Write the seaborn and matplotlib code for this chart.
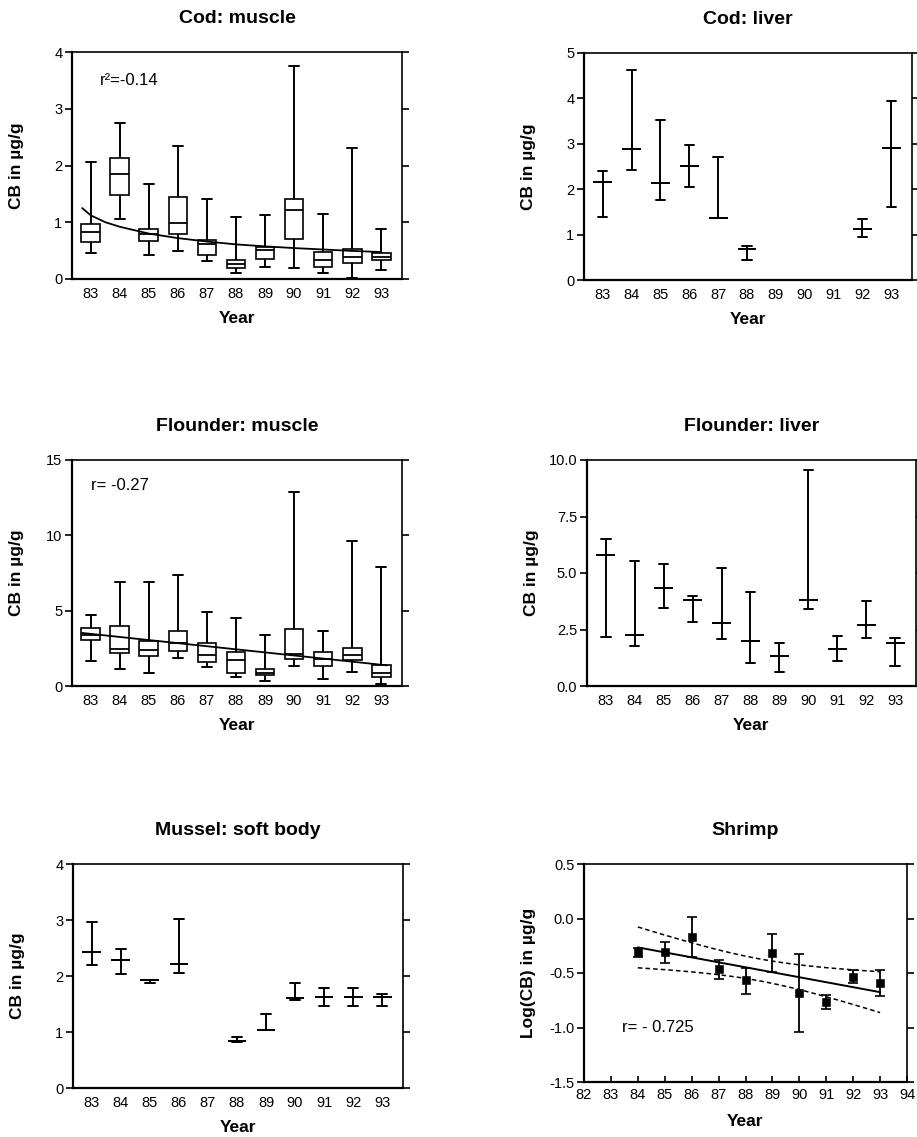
import numpy as np
import pandas as pd
import matplotlib
matplotlib.use("Agg")
import matplotlib.pyplot as plt
import seaborn as sns

# ---------------- data ----------------
years = [83, 84, 85, 86, 87, 88, 89, 90, 91, 92, 93]

# Cod: muscle (box plots: min, q1, median, q3, max)
cod_m_lo  = [0.45, 1.05, 0.43, 0.49, 0.32, 0.11, 0.22, 0.20, 0.10, 0.02, 0.16]
cod_m_q1  = [0.65, 1.48, 0.67, 0.79, 0.42, 0.19, 0.36, 0.71, 0.22, 0.28, 0.34]
cod_m_med = [0.82, 1.85, 0.79, 0.99, 0.61, 0.26, 0.51, 1.22, 0.34, 0.39, 0.39]
cod_m_q3  = [0.97, 2.13, 0.88, 1.45, 0.69, 0.33, 0.57, 1.41, 0.48, 0.52, 0.46]
cod_m_hi  = [2.06, 2.75, 1.68, 2.34, 1.41, 1.09, 1.13, 3.76, 1.15, 2.30, 0.88]
cod_m_curve_x = [82.7, 83.0, 83.5, 84, 85, 86, 87, 88, 89, 90, 91, 92, 93]
cod_m_curve_y = [1.25, 1.12, 1.00, 0.92, 0.80, 0.72, 0.66, 0.61, 0.575, 0.545, 0.52, 0.495, 0.475]
cod_m_text = "r\u00b2=-0.14"

# Cod: liver (range: low, mean, high)
cod_l_years = [83, 84, 85, 86, 87, 88, 92, 93]
cod_l_lo  = [1.38, 2.42, 1.77, 2.04, 1.36, 0.43, 0.95, 1.61]
cod_l_mid = [2.16, 2.89, 2.14, 2.51, 1.37, 0.68, 1.12, 2.91]
cod_l_hi  = [2.40, 4.63, 3.53, 2.98, 2.71, 0.755, 1.35, 3.94]

# Flounder: muscle (box plots)
fl_m_lo  = [1.66, 1.11, 0.86, 1.86, 1.24, 0.60, 0.31, 1.35, 0.47, 0.93, 0.16]
fl_m_q1  = [3.04, 2.22, 1.97, 2.33, 1.60, 0.86, 0.71, 1.79, 1.31, 1.71, 0.60]
fl_m_med = [3.37, 2.48, 2.42, 2.86, 2.08, 1.73, 0.86, 2.13, 1.79, 2.04, 0.86]
fl_m_q3  = [3.86, 3.97, 2.97, 3.68, 2.86, 2.26, 1.11, 3.77, 2.24, 2.53, 1.42]
fl_m_hi  = [4.70, 6.91, 6.91, 7.36, 4.90, 4.54, 3.37, 12.9, 3.63, 9.64, 7.91]
fl_m_line_x = [82.7, 93.2]
fl_m_line_y = [3.52, 1.37]
fl_m_text = "r= -0.27"

# Flounder: liver (range)
fl_l_lo  = [2.17, 1.76, 3.47, 2.85, 2.09, 1.00, 0.60, 3.42, 1.09, 2.14, 0.90]
fl_l_mid = [5.80, 2.26, 4.32, 3.82, 2.77, 1.99, 1.33, 3.82, 1.65, 2.70, 1.92]
fl_l_hi  = [6.49, 5.52, 5.41, 4.00, 5.22, 4.17, 1.89, 9.56, 2.21, 3.75, 2.14]

# Mussel: soft body (range)
mus_years = [83, 84, 85, 86, 88, 89, 90, 91, 92, 93]
mus_lo  = [2.19, 2.04, 1.875, 2.05, 0.83, 1.03, 1.58, 1.46, 1.46, 1.46]
mus_mid = [2.43, 2.28, 1.92, 2.22, 0.845, 1.04, 1.61, 1.62, 1.62, 1.62]
mus_hi  = [2.96, 2.49, 1.93, 3.02, 0.905, 1.32, 1.87, 1.79, 1.79, 1.68]

# Shrimp: log(CB) means with error bars
shr_years = [84, 85, 86, 87, 88, 89, 90, 91, 92, 93]
shr_mean = [-0.309, -0.309, -0.166, -0.465, -0.563, -0.321, -0.679, -0.764, -0.535, -0.593]
shr_lo   = [-0.349, -0.410, -0.349, -0.557, -0.690, -0.492, -1.042, -0.831, -0.590, -0.709]
shr_hi   = [-0.273, -0.218, 0.018, -0.385, -0.450, -0.141, -0.324, -0.703, -0.474, -0.474]
shr_text = "r= - 0.725"
t_975_8 = 2.306  # Student t quantile for the 95 % band (n-2 = 8 df)

# ---------------- style ----------------
sns.set_theme(style="ticks", rc={
    "text.color": "black", "axes.labelcolor": "black", "axes.edgecolor": "black",
    "xtick.color": "black", "ytick.color": "black",
})
plt.rcParams["font.family"] = ["Liberation Sans", "DejaVu Sans"]
plt.rcParams["axes.unicode_minus"] = False

W, H = 917, 1137
fig = plt.figure(figsize=(W / 100, H / 100), dpi=100)


def make_ax(l, r, t, b):
    return fig.add_axes([l / W, 1 - b / H, (r - l) / W, (b - t) / H])


def box_frame(yrs, *cols):
    return pd.DataFrame({
        "Year": np.repeat(np.asarray(yrs, dtype=float), len(cols)),
        "val": np.column_stack(cols).ravel(),
    })


def draw_boxes(ax, frame, lw=1.2):
    sns.boxplot(data=frame, x="Year", y="val", native_scale=True, whis=(0, 100),
                width=0.65, color="white", linecolor="black", linewidth=lw,
                whiskerprops={"linewidth": 1.4}, capprops={"linewidth": 1.4},
                medianprops={"linewidth": 1.3}, ax=ax)


def style_ax(ax, title, ylim, yticks, fmt=None, cat=True, ylabel="CB in \u00b5g/g"):
    ax.set_title(title, fontsize=14, fontweight="bold", pad=21, color="black")
    ax.set_ylim(*ylim)
    ax.set_yticks(yticks)
    if fmt:
        ax.set_yticklabels([fmt.format(v) for v in yticks])
    if cat:
        ax.set_xlim(82.35, 93.72)
        ax.set_xticks(years)
        ax.set_xticklabels([str(y) for y in years])
        ax.tick_params(axis="x", length=0, pad=6, labelsize=10.5)
    ax.tick_params(axis="y", left=True, right=True, direction="out", length=5,
                   width=1.2, labelsize=10.5, pad=2)
    for side in ["left", "bottom"]:
        ax.spines[side].set_linewidth(1.6)
    for side in ["top", "right"]:
        ax.spines[side].set_visible(True)
        ax.spines[side].set_linewidth(1.2)
    ax.set_xlabel("Year", fontsize=12.5, fontweight="bold")
    ax.set_ylabel(ylabel, fontsize=12.5, fontweight="bold")
    wpx = ax.get_position().width * W
    hpx = ax.get_position().height * H
    ax.yaxis.set_label_coords(-48 / wpx, 0.5)
    ax.xaxis.set_label_coords(0.5, -32 / hpx)


# ---- Cod: muscle ----
ax1 = make_ax(72, 402, 52, 279)
draw_boxes(ax1, box_frame(years, cod_m_lo, cod_m_q1, cod_m_med, cod_m_q3, cod_m_hi))
ax1.plot(cod_m_curve_x, cod_m_curve_y, color="black", lw=1.3)
ax1.text(83.3, 3.5, cod_m_text, fontsize=12, ha="left", va="center")
style_ax(ax1, "Cod: muscle", (0, 4), [0, 1, 2, 3, 4])

# ---- Cod: liver ----
ax2 = make_ax(584, 912, 53, 280)
draw_boxes(ax2, box_frame(cod_l_years, cod_l_lo, cod_l_mid, cod_l_mid, cod_l_mid, cod_l_hi), lw=1.3)
style_ax(ax2, "Cod: liver", (0, 5), [0, 1, 2, 3, 4, 5])

# ---- Flounder: muscle ----
ax3 = make_ax(72, 402, 460, 686)
draw_boxes(ax3, box_frame(years, fl_m_lo, fl_m_q1, fl_m_med, fl_m_q3, fl_m_hi))
ax3.plot(fl_m_line_x, fl_m_line_y, color="black", lw=1.3)
ax3.text(83.0, 13.3, fl_m_text, fontsize=12, ha="left", va="center")
style_ax(ax3, "Flounder: muscle", (0, 15), [0, 5, 10, 15])

# ---- Flounder: liver ----
ax4 = make_ax(587, 916, 460, 686)
draw_boxes(ax4, box_frame(years, fl_l_lo, fl_l_mid, fl_l_mid, fl_l_mid, fl_l_hi), lw=1.3)
style_ax(ax4, "Flounder: liver", (0, 10), [0, 2.5, 5, 7.5, 10], fmt="{:.1f}")

# ---- Mussel: soft body ----
ax5 = make_ax(73, 403, 864, 1088)
draw_boxes(ax5, box_frame(mus_years, mus_lo, mus_mid, mus_mid, mus_mid, mus_hi), lw=1.3)
style_ax(ax5, "Mussel: soft body", (0, 4), [0, 1, 2, 3, 4])

# ---- Shrimp ----
ax6 = make_ax(584, 907, 864, 1082)
xs = np.asarray(shr_years, dtype=float)
ys = np.asarray(shr_mean)
yerr = np.vstack([ys - np.asarray(shr_lo), np.asarray(shr_hi) - ys])
ax6.errorbar(xs, ys, yerr=yerr, fmt="none", ecolor="black", elinewidth=1.3,
             capsize=3.5, capthick=1.2)
sns.scatterplot(x=xs, y=ys, marker="s", s=28, color="black", edgecolor="black", ax=ax6, zorder=3)
slope, icpt = np.polyfit(xs, ys, 1)
gx = np.linspace(xs.min(), xs.max(), 60)
fit = icpt + slope * gx
resid = ys - (icpt + slope * xs)
s_err = np.sqrt(np.sum(resid ** 2) / (len(xs) - 2))
sxx = np.sum((xs - xs.mean()) ** 2)
half = t_975_8 * s_err * np.sqrt(1 / len(xs) + (gx - xs.mean()) ** 2 / sxx)
ax6.plot(gx, fit, color="black", lw=1.4)
ax6.plot(gx, fit + half, color="black", lw=1.1, ls=(0, (3, 2)))
ax6.plot(gx, fit - half, color="black", lw=1.1, ls=(0, (3, 2)))
ax6.text(83.4, -1.0, shr_text, fontsize=12, ha="left", va="center")
style_ax(ax6, "Shrimp", (-1.5, 0.5), [-1.5, -1.0, -0.5, 0.0, 0.5], fmt="{:.1f}",
         cat=False, ylabel="Log(CB) in \u00b5g/g")
ax6.set_xlim(82, 94)
ax6.set_xticks(list(range(82, 95)))
ax6.set_xticklabels([str(v) for v in range(82, 95)])
ax6.tick_params(axis="x", direction="in", length=4, width=1.2, top=False, labelsize=10.5, pad=4)

fig.savefig("out.png", dpi=100)
